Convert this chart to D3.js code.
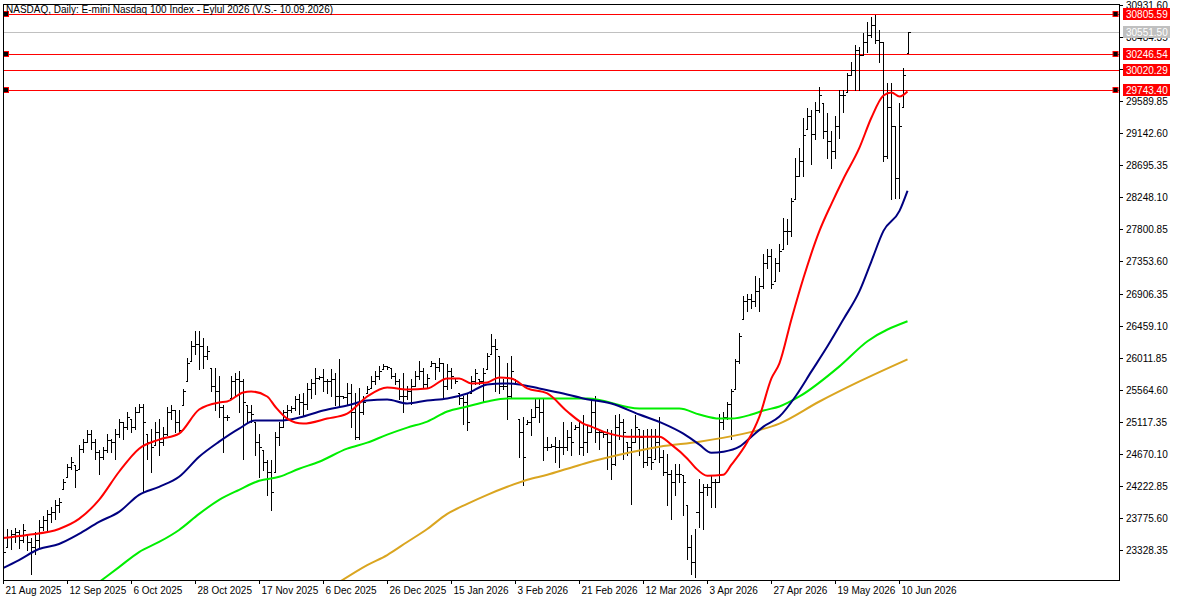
<!DOCTYPE html>
<html><head><meta charset="utf-8">
<script src="https://cdn.jsdelivr.net/npm/d3@7"></script>
<style>body{margin:0;background:#fff}svg text{font-family:"Liberation Sans",Arial,sans-serif}</style>
</head><body><svg id="c" width="1179" height="602"></svg>
<script>
const highs=[23580,23622,23608,23636,23608,23692,23552,23496,23580,23748,23804,23888,23930,24028,24056,24322,24532,24630,24518,24798,24882,25008,25008,24882,24728,24770,24952,24882,25022,25162,25120,25260,25162,25330,25372,25372,24952,25022,25120,25162,25050,25330,25358,25288,25288,25568,26002,26240,26380,26380,26282,26170,25862,25862,25750,25358,25218,25750,25792,25820,25708,25358,25358,25120,24952,24728,24588,24588,24980,25120,25288,25358,25344,25470,25498,25512,25652,25708,25862,25750,25848,25708,25848,25792,25988,25470,25652,25638,25512,25582,25470,25610,25750,25820,25890,25918,25890,25862,25792,25708,25792,25610,25708,25820,25960,25862,25778,25960,25932,26002,25932,25918,25862,25722,25512,25470,25498,25750,25848,25708,25862,26072,26338,26268,26030,25708,25932,26030,25708,25162,25190,25148,25302,25428,25428,25428,24910,24812,24910,24868,25120,25008,25120,25078,25120,25218,25078,25442,25470,25022,24980,25022,25008,25218,25232,25162,24840,25022,25218,25022,25008,25022,25022,25022,25190,24728,24672,24448,24532,24532,24378,23958,23538,23622,24322,24252,24252,24378,24322,25232,25260,25400,25568,25988,26352,26870,26898,26898,27150,27122,27458,27528,27528,27402,27598,27962,27948,28242,28802,28942,29362,29488,29460,29572,29782,29558,29418,29180,29390,29740,29740,29978,30132,30370,30342,30538,30692,30762,30790,30580,30412,29838,29838,29250,29558,30048,30552];
const lows=[23160,23370,23342,23440,23356,23440,23328,22992,23272,23370,23608,23580,23720,23762,23860,24182,24350,24462,24210,24462,24700,24840,24742,24602,24392,24602,24700,24700,24602,24910,24882,25022,24980,25022,25260,24140,24602,24420,24798,24658,24798,24938,25162,24980,24980,25358,25680,25960,26058,25848,25862,25988,25540,25288,25190,24700,25148,25442,25470,25260,24602,25120,25120,24658,24350,24448,24098,23888,24420,24798,25050,25162,25260,25288,25232,25218,25302,25442,25498,25708,25540,25512,25470,25358,25358,25442,25358,25050,24882,24882,25232,25512,25582,25638,25708,25848,25848,25722,25638,25428,25260,25428,25372,25610,25708,25582,25582,25890,25708,25820,25442,25568,25582,25652,25372,25092,25008,25512,25638,25638,25400,25848,26058,25540,25512,25568,25162,25442,25638,24630,24238,25092,24938,25190,25120,24588,24728,24770,24560,24490,24672,24728,24658,25022,24672,24658,24700,24980,24840,24742,24910,24462,24322,24518,24882,24602,24658,23972,24840,24658,24490,24518,24462,24602,24560,24378,23958,23762,24098,24280,23818,23202,22992,22950,23650,23622,24098,23930,23930,24280,25022,25162,24882,25568,25932,26548,26660,26702,26730,26660,26982,27262,26982,27080,27220,27528,27598,27710,28228,28550,28550,29208,28718,29068,29432,29082,28802,28662,28802,29082,29432,29712,29950,29740,29740,30230,30272,30482,30398,30132,28760,28802,28228,28242,28242,29502,30258];
const closes=[23300,23510,23552,23580,23468,23608,23440,23370,23468,23650,23748,23832,23860,23958,24000,24280,24490,24560,24448,24742,24840,24952,24840,24700,24630,24728,24868,24840,24952,25120,25050,25190,25050,25260,25330,25120,24840,24770,24980,24840,24952,25260,25288,25120,25008,25540,25932,26170,26198,26170,26030,26100,25610,25540,25330,25190,25190,25680,25708,25680,25400,25260,25232,24840,24770,24560,24420,24140,24910,25050,25260,25288,25316,25428,25400,25372,25568,25652,25722,25736,25680,25680,25708,25470,25470,25456,25512,25260,24910,25260,25400,25568,25680,25750,25820,25890,25876,25750,25680,25470,25470,25540,25610,25750,25820,25638,25722,25932,25876,25932,25610,25820,25750,25680,25442,25400,25120,25680,25792,25680,25792,26030,26170,26128,25610,25610,25470,25820,25680,24980,24630,25120,25190,25330,25260,24770,24770,24784,24770,24770,24770,24910,24840,25050,24770,24840,24980,25260,24980,24980,24952,24840,24532,25050,25120,24980,24770,24840,25050,24910,24560,24630,24560,24840,24630,24420,24392,24280,24392,24392,24280,23370,23160,23860,24140,24210,24210,24280,24280,25120,25190,25372,25540,25960,26310,26800,26828,26800,26940,27010,27332,27430,27038,27332,27500,27780,27780,28200,28550,28760,29124,29390,29138,29460,29670,29180,29040,28900,29250,29670,29670,29950,30020,30300,30230,30412,30510,30650,30440,30412,28830,29502,29250,28522,29250,29950,30551.5];
const maRedIdx=[0,6,14,19,24,29,34,39,44,49,54,56,60,62,66,68,71,75,81,86,91,96,101,106,111,114,117,121,124,127,131,136,141,145,147,150,156,164,167,171,173,176,180,182,186,189,192,194,197,200,204,207,210,214,217,220,222,224,226];
const maRedVal=[23496,23538,23622,23762,24028,24420,24742,24868,24952,25288,25386,25400,25526,25540,25470,25330,25162,25092,25162,25232,25470,25596,25568,25582,25722,25722,25652,25666,25736,25722,25582,25512,25260,25092,25050,24980,24910,24910,24798,24602,24476,24364,24378,24518,24840,25190,25722,25932,26548,27122,27780,28158,28508,28942,29362,29670,29712,29656,29726];
const maNavyIdx=[0,4,9,14,19,24,29,34,39,44,49,54,59,63,69,74,80,86,91,96,101,106,111,116,121,125,129,134,140,145,152,159,165,170,174,177,180,184,187,190,194,198,202,206,210,214,217,220,224,226];
const maNavyVal=[23076,23188,23342,23412,23552,23720,23860,24098,24210,24350,24630,24840,25022,25134,25134,25176,25274,25344,25414,25428,25372,25414,25442,25512,25638,25652,25638,25582,25512,25442,25372,25218,25092,24952,24798,24686,24700,24770,24910,25050,25190,25470,25820,26170,26548,26940,27360,27780,28060,28340];
const maGreenIdx=[24,29,34,39,44,49,54,59,64,69,74,79,86,91,96,101,106,111,116,121,126,146,159,169,174,179,182,187,190,194,199,209,216,226];
const maGreenVal=[22880,23090,23300,23440,23608,23832,24028,24168,24294,24350,24462,24560,24742,24826,24938,25036,25120,25260,25330,25400,25442,25442,25302,25302,25218,25162,25162,25218,25274,25330,25470,25890,26240,26520];
const maGoldIdx=[84,91,96,101,106,111,116,121,126,131,136,141,146,154,164,174,184,194,204,214,226];
const maGoldVal=[22880,23118,23258,23440,23622,23832,23972,24098,24210,24308,24378,24462,24546,24658,24770,24840,24938,25092,25400,25680,25988];
const priceTicks=[30931.60,30484.35,30037.10,29589.85,29142.60,28695.35,28248.10,27800.85,27353.60,26906.35,26459.10,26011.85,25564.60,25117.35,24670.10,24222.85,23775.60,23328.35];
const dateLabels=["21 Aug 2025","12 Sep 2025","6 Oct 2025","28 Oct 2025","17 Nov 2025","6 Dec 2025","26 Dec 2025","15 Jan 2026","3 Feb 2026","21 Feb 2026","12 Mar 2026","3 Apr 2026","27 Apr 2026","19 May 2026","10 Jun 2026"];
const levels=[30805.59,30246.54,30020.29,29743.40];
const levelMarked=[true,true,false,true];
const bidLevel=30551.50;
const title="NASDAQ, Daily:  E-mini Nasdaq 100 Index - Eylul 2026 (V.S.- 10.09.2026)";

const svg=d3.select("#c");
const L=3,R=1119,T=4,B=580;
const y=d3.scaleLinear().domain([30931.6,23328.35]).range([5,550]);
const x=d3.scaleLinear().domain([0,226]).range([3,907.5]);
const fmt=d3.format(".2f");
svg.append("defs").append("clipPath").attr("id","pc").append("rect").attr("x",L).attr("y",T).attr("width",R-L).attr("height",B-T);
const g=svg.append("g").attr("clip-path","url(#pc)");
g.append("line").attr("x1",L).attr("x2",R).attr("y1",Math.round(y(bidLevel))+.5).attr("y2",Math.round(y(bidLevel))+.5).attr("stroke","#c0c0c0");
levels.forEach(v=>{const yy=Math.round(y(v))+.5;g.append("line").attr("x1",L).attr("x2",R).attr("y1",yy).attr("y2",yy).attr("stroke","#ff0000");});
const bars=g.append("g").attr("stroke","#000").attr("shape-rendering","crispEdges");
closes.forEach((c,i)=>{
  const xx=Math.round(x(i))+.5;
  const o=i>0?closes[i-1]:lows[i]+(highs[i]-lows[i])/2;
  const oo=Math.max(lows[i],Math.min(highs[i],o));
  bars.append("line").attr("x1",xx).attr("x2",xx).attr("y1",Math.round(y(highs[i]))).attr("y2",Math.round(y(lows[i]))+1);
  bars.append("line").attr("x1",xx-2).attr("x2",xx).attr("y1",Math.round(y(oo))+.5).attr("y2",Math.round(y(oo))+.5);
  bars.append("line").attr("x1",xx).attr("x2",xx+2).attr("y1",Math.round(y(c))+.5).attr("y2",Math.round(y(c))+.5);
});
const line=d3.line().x(d=>x(d[0])).y(d=>y(d[1])).curve(d3.curveMonotoneX);
[[maGoldIdx,maGoldVal,"#daa520"],[maGreenIdx,maGreenVal,"#00ee00"],[maNavyIdx,maNavyVal,"#000080"],[maRedIdx,maRedVal,"#ff0000"]].forEach(([ix,vs,col])=>{
  g.append("path").attr("d",line(ix.map((v,k)=>[v,vs[k]]))).attr("fill","none").attr("stroke",col).attr("stroke-width",2);
});
levels.forEach((v,k)=>{if(!levelMarked[k])return;const yy=Math.round(y(v));
  [L+0.5,R-6].forEach(xx=>{svg.append("rect").attr("x",xx).attr("y",yy-2.5).attr("width",5).attr("height",5).attr("fill","#000").attr("stroke","#ff0000").attr("stroke-width",1);});});
svg.append("path").attr("d",`M${L+.5},${B}V${T+.5}H${R+.5}V${B+.5}H${L}`).attr("fill","none").attr("stroke","#000").attr("shape-rendering","crispEdges");
const ax=svg.append("g");
priceTicks.forEach(p=>{const yy=Math.round(y(p))+.5;
  ax.append("line").attr("x1",R).attr("x2",R+4).attr("y1",yy).attr("y2",yy).attr("stroke","#000");
  ax.append("text").attr("x",R+7).attr("y",yy+3.5).attr("font-size",10).attr("fill","#000").text(fmt(p));});
function tag(v,bg){const yy=Math.round(y(v));
  ax.append("rect").attr("x",R+4).attr("y",yy-6).attr("width",47).attr("height",12).attr("fill",bg);
  ax.append("text").attr("x",R+7).attr("y",yy+4).attr("font-size",10).attr("fill","#fff").text(fmt(v));}
tag(bidLevel,"#c0c0c0");
levels.forEach(v=>tag(v,"#ff0000"));
dateLabels.forEach((d,k)=>{const xx=Math.round(x(k*16))+.5;
  svg.append("line").attr("x1",xx).attr("x2",xx).attr("y1",B).attr("y2",B+4).attr("stroke","#000");
  svg.append("text").attr("x",xx+2).attr("y",594).attr("font-size",10).attr("fill","#000").text(d);});
svg.append("text").attr("x",6).attr("y",13).attr("font-size",10).attr("fill","#000").text(title);
</script></body></html>
